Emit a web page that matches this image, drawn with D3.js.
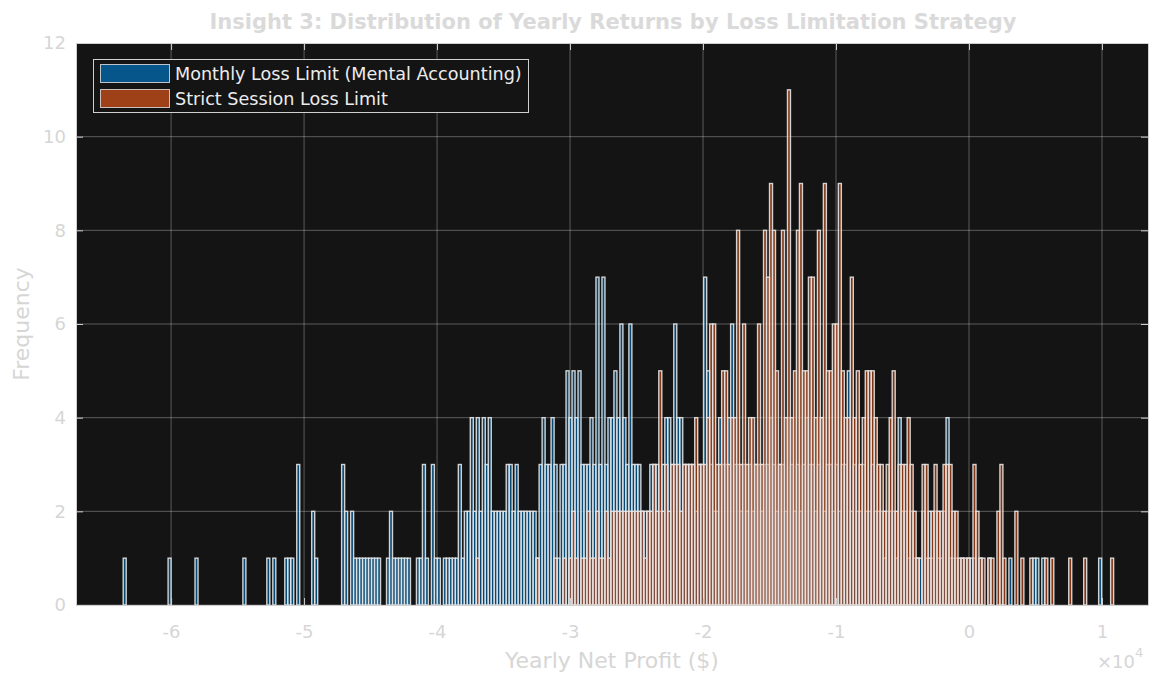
<!DOCTYPE html>
<html>
<head>
<meta charset="utf-8">
<script src="https://cdn.jsdelivr.net/npm/d3@7"></script>
<style>
  html, body { margin: 0; padding: 0; background: #ffffff; }
  svg { display: block; font-family: "DejaVu Sans", Verdana, sans-serif; }
</style>
</head>
<body>
<svg id="chart" width="1151" height="673"></svg>
<script>
// histogram bins (dollars)
const binWidth = 225;

// Monthly Loss Limit (Mental Accounting): counts per bin from monthlyStart
const monthlyStart = -63600;
const monthlyCounts = [
  1,0,0,0,0,0,0,0,0,0, 0,0,0,0,0,1,0,0,0,0, 0,0,0,0,1,0,0,0,0,0, 0,0,0,0,0,0,0,0,0,0,
  1,0,0,0,0,0,0,0,1,0, 1,0,0,0,1,1,1,0,3,0, 0,0,0,2,1,0,0,0,0,0, 0,0,0,3,2,0,2,1,1,1,
  1,1,1,1,1,1,0,0,1,2, 1,1,1,1,1,1,0,0,1,1, 3,1,0,3,1,1,0,1,1,1, 1,1,3,1,2,2,4,2,4,2,
  4,3,4,2,2,2,2,2,3,3, 2,3,2,2,2,2,2,2,1,3, 4,3,3,4,3,1,3,3,5,4, 5,4,5,3,3,3,4,3,7,3,
  7,3,4,4,5,4,6,4,3,6, 3,3,3,2,2,2,3,3,3,2, 3,4,4,3,6,4,4,3,3,3, 3,2,3,3,7,5,3,2,2,4,
  3,3,4,6,3,3,2,3,2,3, 2,3,3,2,3,3,4,3,2,3, 3,2,4,3,2,3,2,3,4,3, 3,2,3,4,2,3,3,2,3,2,
  3,3,5,2,3,2,2,3,2,2, 3,2,2,2,1,2,2,2,1,4, 2,2,1,2,1,1,1,2,1,2, 1,2,1,1,2,4,1,1,1,0,
  1,0,1,1,1,0,1,0,0,1, 0,0,0,0,0,0,1,0,0,0, 0,0,0,0,1,1,0,1,0,0, 0,0,0,0,0,0,0,0,0,0,
  0,0,0,0,0,0,1
];

// Strict Session Loss Limit: counts per bin from strictStart
const strictStart = -37050;
const strictCounts = [
  1,0,0,0,0,0,0,0,0,0, 0,0,0,0,0,0,0,0,0,0, 1,0,0,0,0,0,1,0,0,1, 0,1,2,1,0,1,1,2,1,1,
  2,1,1,2,1,2,2,2,2,2, 2,2,2,2,2,2,1,2,2,3, 2,5,2,3,2,3,3,3,2,3, 3,3,3,4,3,3,3,4,6,6,
  3,3,5,5,3,4,4,8,3,6, 3,4,4,3,6,3,8,7,9,8, 5,3,8,4,11,4,5,8,9,5, 5,7,7,4,8,4,9,5,5,6,
  6,9,5,4,4,7,4,5,3,4, 5,5,5,4,3,3,2,3,4,5, 2,3,3,3,4,3,2,1,0,3, 3,1,2,3,2,2,3,3,3,2,
  2,1,1,1,1,0,3,2,1,1, 0,1,1,0,2,3,1,0,0,0, 2,0,1,0,0,1,0,0,0,0, 1,0,1,0,0,0,0,0,1,0,
  0,0,0,1,0,0,0,0,0,0, 0,0,1
];

const seriesNames = ['Monthly Loss Limit (Mental Accounting)', 'Strict Session Loss Limit'];
const seriesColors = ['#0072BD', '#D95319'];

const xTicks = [-6, -5, -4, -3, -2, -1, 0, 1];   // in units of 10^4
const yTicks = [0, 2, 4, 6, 8, 10, 12];

(function () {
    'use strict';

    var svg = d3.select('#chart');

    var plotLeft = 76, plotRight = 1148, plotTop = 43, plotBottom = 605;

    var scaleX = d3.scaleLinear().domain([-67150, 13460]).range([plotLeft, plotRight]);
    var scaleY = d3.scaleLinear().domain([0, 12]).range([plotBottom, plotTop]);

    var textColor = '#d6d6d6';
    var axisColor = '#cfcfcf';
    var bgColor = '#141414';

    svg.append('rect')
        .attr('x', plotLeft).attr('y', plotTop)
        .attr('width', plotRight - plotLeft).attr('height', plotBottom - plotTop)
        .attr('fill', bgColor);

    // grid
    var grid = svg.append('g').attr('class', 'grid');
    grid.selectAll('line.gx').data(xTicks).join('line')
        .attr('class', 'gx')
        .attr('x1', function (d) { return scaleX(d * 1e4); })
        .attr('x2', function (d) { return scaleX(d * 1e4); })
        .attr('y1', plotTop).attr('y2', plotBottom)
        .attr('stroke', '#ffffff').attr('stroke-opacity', 0.3).attr('stroke-width', 1);
    grid.selectAll('line.gy').data(yTicks).join('line')
        .attr('class', 'gy')
        .attr('x1', plotLeft).attr('x2', plotRight)
        .attr('y1', function (d) { return scaleY(d); })
        .attr('y2', function (d) { return scaleY(d); })
        .attr('stroke', '#ffffff').attr('stroke-opacity', 0.3).attr('stroke-width', 1);

    function toBins(start, counts) {
        return counts.map(function (c, k) {
            return { x0: start + k * binWidth, x1: start + (k + 1) * binWidth, count: c };
        }).filter(function (d) { return d.count > 0; });
    }

    function drawSeries(bins, color) {
        svg.append('g').attr('class', 'series')
            .selectAll('rect').data(bins).join('rect')
            .attr('x', function (d) { return scaleX(d.x0); })
            .attr('width', function (d) { return scaleX(d.x1) - scaleX(d.x0); })
            .attr('y', function (d) { return scaleY(d.count); })
            .attr('height', function (d) { return scaleY(0) - scaleY(d.count); })
            .attr('fill', color).attr('fill-opacity', 0.55)
            .attr('stroke', '#e6e6e6').attr('stroke-opacity', 0.9).attr('stroke-width', 1.4);
    }

    drawSeries(toBins(monthlyStart, monthlyCounts), seriesColors[0]);
    drawSeries(toBins(strictStart, strictCounts), seriesColors[1]);

    // axes (ticks inside, box on)
    var xTickValues = xTicks.map(function (t) { return t * 1e4; });

    svg.append('g')
        .attr('transform', 'translate(0,' + plotBottom + ')')
        .call(d3.axisBottom(scaleX)
            .tickValues(xTickValues)
            .tickFormat(function (v) { return String(Math.round(v / 1e4)); })
            .tickSizeInner(-7).tickSizeOuter(0).tickPadding(20))
        .call(function (g) {
            g.select('.domain').attr('stroke', axisColor);
            g.selectAll('.tick line').attr('stroke', axisColor);
            g.selectAll('.tick text').attr('fill', textColor).attr('font-size', '18px')
                .attr('font-family', '"DejaVu Sans", Verdana, sans-serif');
        });

    svg.append('g')
        .attr('transform', 'translate(0,' + plotTop + ')')
        .call(d3.axisTop(scaleX).tickValues(xTickValues)
            .tickFormat('').tickSizeInner(-7).tickSizeOuter(0))
        .call(function (g) {
            g.select('.domain').attr('stroke', axisColor);
            g.selectAll('.tick line').attr('stroke', axisColor);
        });

    svg.append('g')
        .attr('transform', 'translate(' + plotLeft + ',0)')
        .call(d3.axisLeft(scaleY).tickValues(yTicks)
            .tickSizeInner(-7).tickSizeOuter(0).tickPadding(10))
        .call(function (g) {
            g.select('.domain').attr('stroke', axisColor);
            g.selectAll('.tick line').attr('stroke', axisColor);
            g.selectAll('.tick text').attr('fill', textColor).attr('font-size', '18px')
                .attr('font-family', '"DejaVu Sans", Verdana, sans-serif');
        });

    svg.append('g')
        .attr('transform', 'translate(' + plotRight + ',0)')
        .call(d3.axisRight(scaleY).tickValues(yTicks).tickFormat('').tickSizeInner(-7).tickSizeOuter(0))
        .call(function (g) {
            g.select('.domain').attr('stroke', axisColor);
            g.selectAll('.tick line').attr('stroke', axisColor);
        });

    // exponent label
    var expo = svg.append('text')
        .attr('x', 1097).attr('y', 668)
        .attr('fill', textColor).attr('font-size', '18px');
    expo.append('tspan').text('\u00d710');
    expo.append('tspan').attr('dy', -11).attr('font-size', '13px').text('4');

    // titles
    svg.append('text')
        .attr('x', 613).attr('y', 29)
        .attr('text-anchor', 'middle')
        .attr('fill', '#dadada').attr('font-size', '21px').attr('font-weight', 'bold')
        .text('Insight 3: Distribution of Yearly Returns by Loss Limitation Strategy');

    svg.append('text')
        .attr('x', 612).attr('y', 668)
        .attr('text-anchor', 'middle')
        .attr('fill', textColor).attr('font-size', '22px')
        .text('Yearly Net Profit ($)');

    svg.append('text')
        .attr('transform', 'translate(29,' + (plotTop + plotBottom) / 2 + ') rotate(-90)')
        .attr('text-anchor', 'middle')
        .attr('fill', textColor).attr('font-size', '22px')
        .text('Frequency');

    // legend
    var legend = svg.append('g').attr('class', 'legend');
    legend.append('rect')
        .attr('x', 93.5).attr('y', 59.5).attr('width', 435).attr('height', 53)
        .attr('fill', bgColor).attr('stroke', '#d0d0d0').attr('stroke-width', 1);

    seriesNames.forEach(function (name, k) {
        var yPos = 64 + k * 25;
        legend.append('rect')
            .attr('x', 100.5).attr('y', yPos + 0.5).attr('width', 69).attr('height', 18)
            .attr('fill', seriesColors[k]).attr('fill-opacity', 0.7)
            .attr('stroke', '#e8e8e8').attr('stroke-opacity', 0.8).attr('stroke-width', 1);
        legend.append('text')
            .attr('x', 175).attr('y', yPos + 16)
            .attr('fill', '#ececec').attr('font-size', '17.6px')
            .text(name);
    });
})();
</script>
</body>
</html>
